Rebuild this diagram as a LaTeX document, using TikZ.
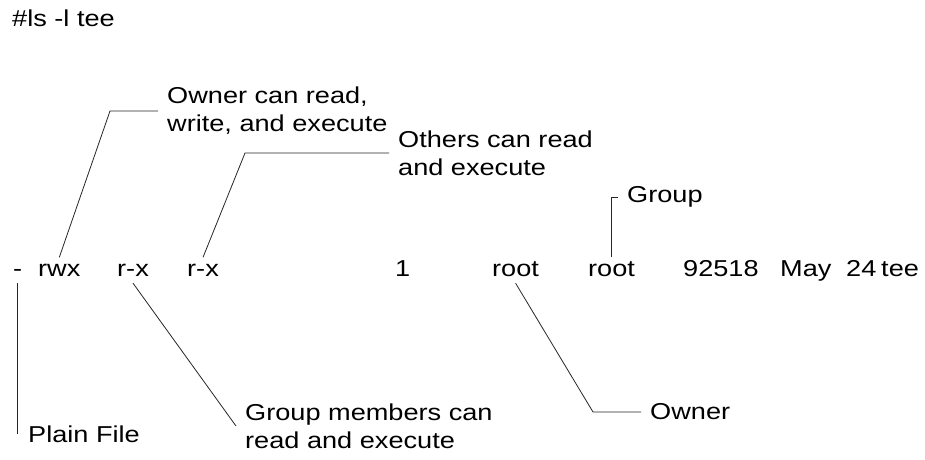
\documentclass[tikz,border=0pt]{standalone}
\usepackage{fontspec}
\setmainfont{Liberation Sans}[FakeStretch=1.18]
\usepackage{tikz}
\tikzset{
  cell/.style={anchor=base west, inner xsep=0pt, inner ysep=2pt, text height=16.5pt, text depth=5pt, font=\fontsize{23}{28}\selectfont},
  note/.style={anchor=west, inner xsep=9pt, inner ysep=0pt, align=left, font=\fontsize{23}{28}\selectfont},
  lead/.style={draw=black!85, line width=0.8pt}
}

\begin{document}
\begin{tikzpicture}[x=1pt,y=-1pt]
    \useasboundingbox (0,0) rectangle (925,459);
    \node (cmd) [cell] at (12,26) {\#ls -l tee};

    % the listed line
    \node (ftype) [cell] at (13,276) {-};
    \node (permu) [cell] at (38,276) {rwx};
    \node (permg) [cell] at (117,276) {r-x};
    \node (permo) [cell] at (187,276) {r-x};
    \node (links) [cell] at (395,276) {1};
    \node (uown) [cell] at (492,276) {root};
    \node (ugrp) [cell] at (588,276) {root};
    \node (size) [cell] at (683,276) {92518};
    \node (month) [cell] at (780,276) {May};
    \node (day) [cell] at (846,276) {24};
    \node (fname) [cell] at (881,276) {tee};

    % callout texts
    \node (ownlbl) [note] at (158,111) {Owner can read,\\write, and execute};
    \node (othlbl) [note] at (389,153) {Others can read\\and execute};
    \node (grplbl) [note] at (618,197) {Group};
    \node (gmlbl) [note] at (236,426) {Group members can\\read and execute};
    \node (ownerlbl) [note] at (641,412) {Owner};
    \node (plainlbl) [note] at (19,434) {Plain File};

    % leader lines
    \coordinate (ubend) at (110,111);
    \coordinate (obend) at (245,153);
    \coordinate (wbend) at (593,412);
    \draw[lead] (permu.north) -- (ubend) -- (ownlbl.west);
    \draw[lead] (permo.north) -- (obend) -- (othlbl.west);
    \draw[lead] (ugrp.north) |- (grplbl.west);
    \draw[lead] (permg.south) -- (gmlbl.west);
    \draw[lead] (uown.south) -- (wbend) -- (ownerlbl.west);
    \draw[lead] (ftype.south) -- (ftype.south |- plainlbl.west);
\end{tikzpicture}
\end{document}
